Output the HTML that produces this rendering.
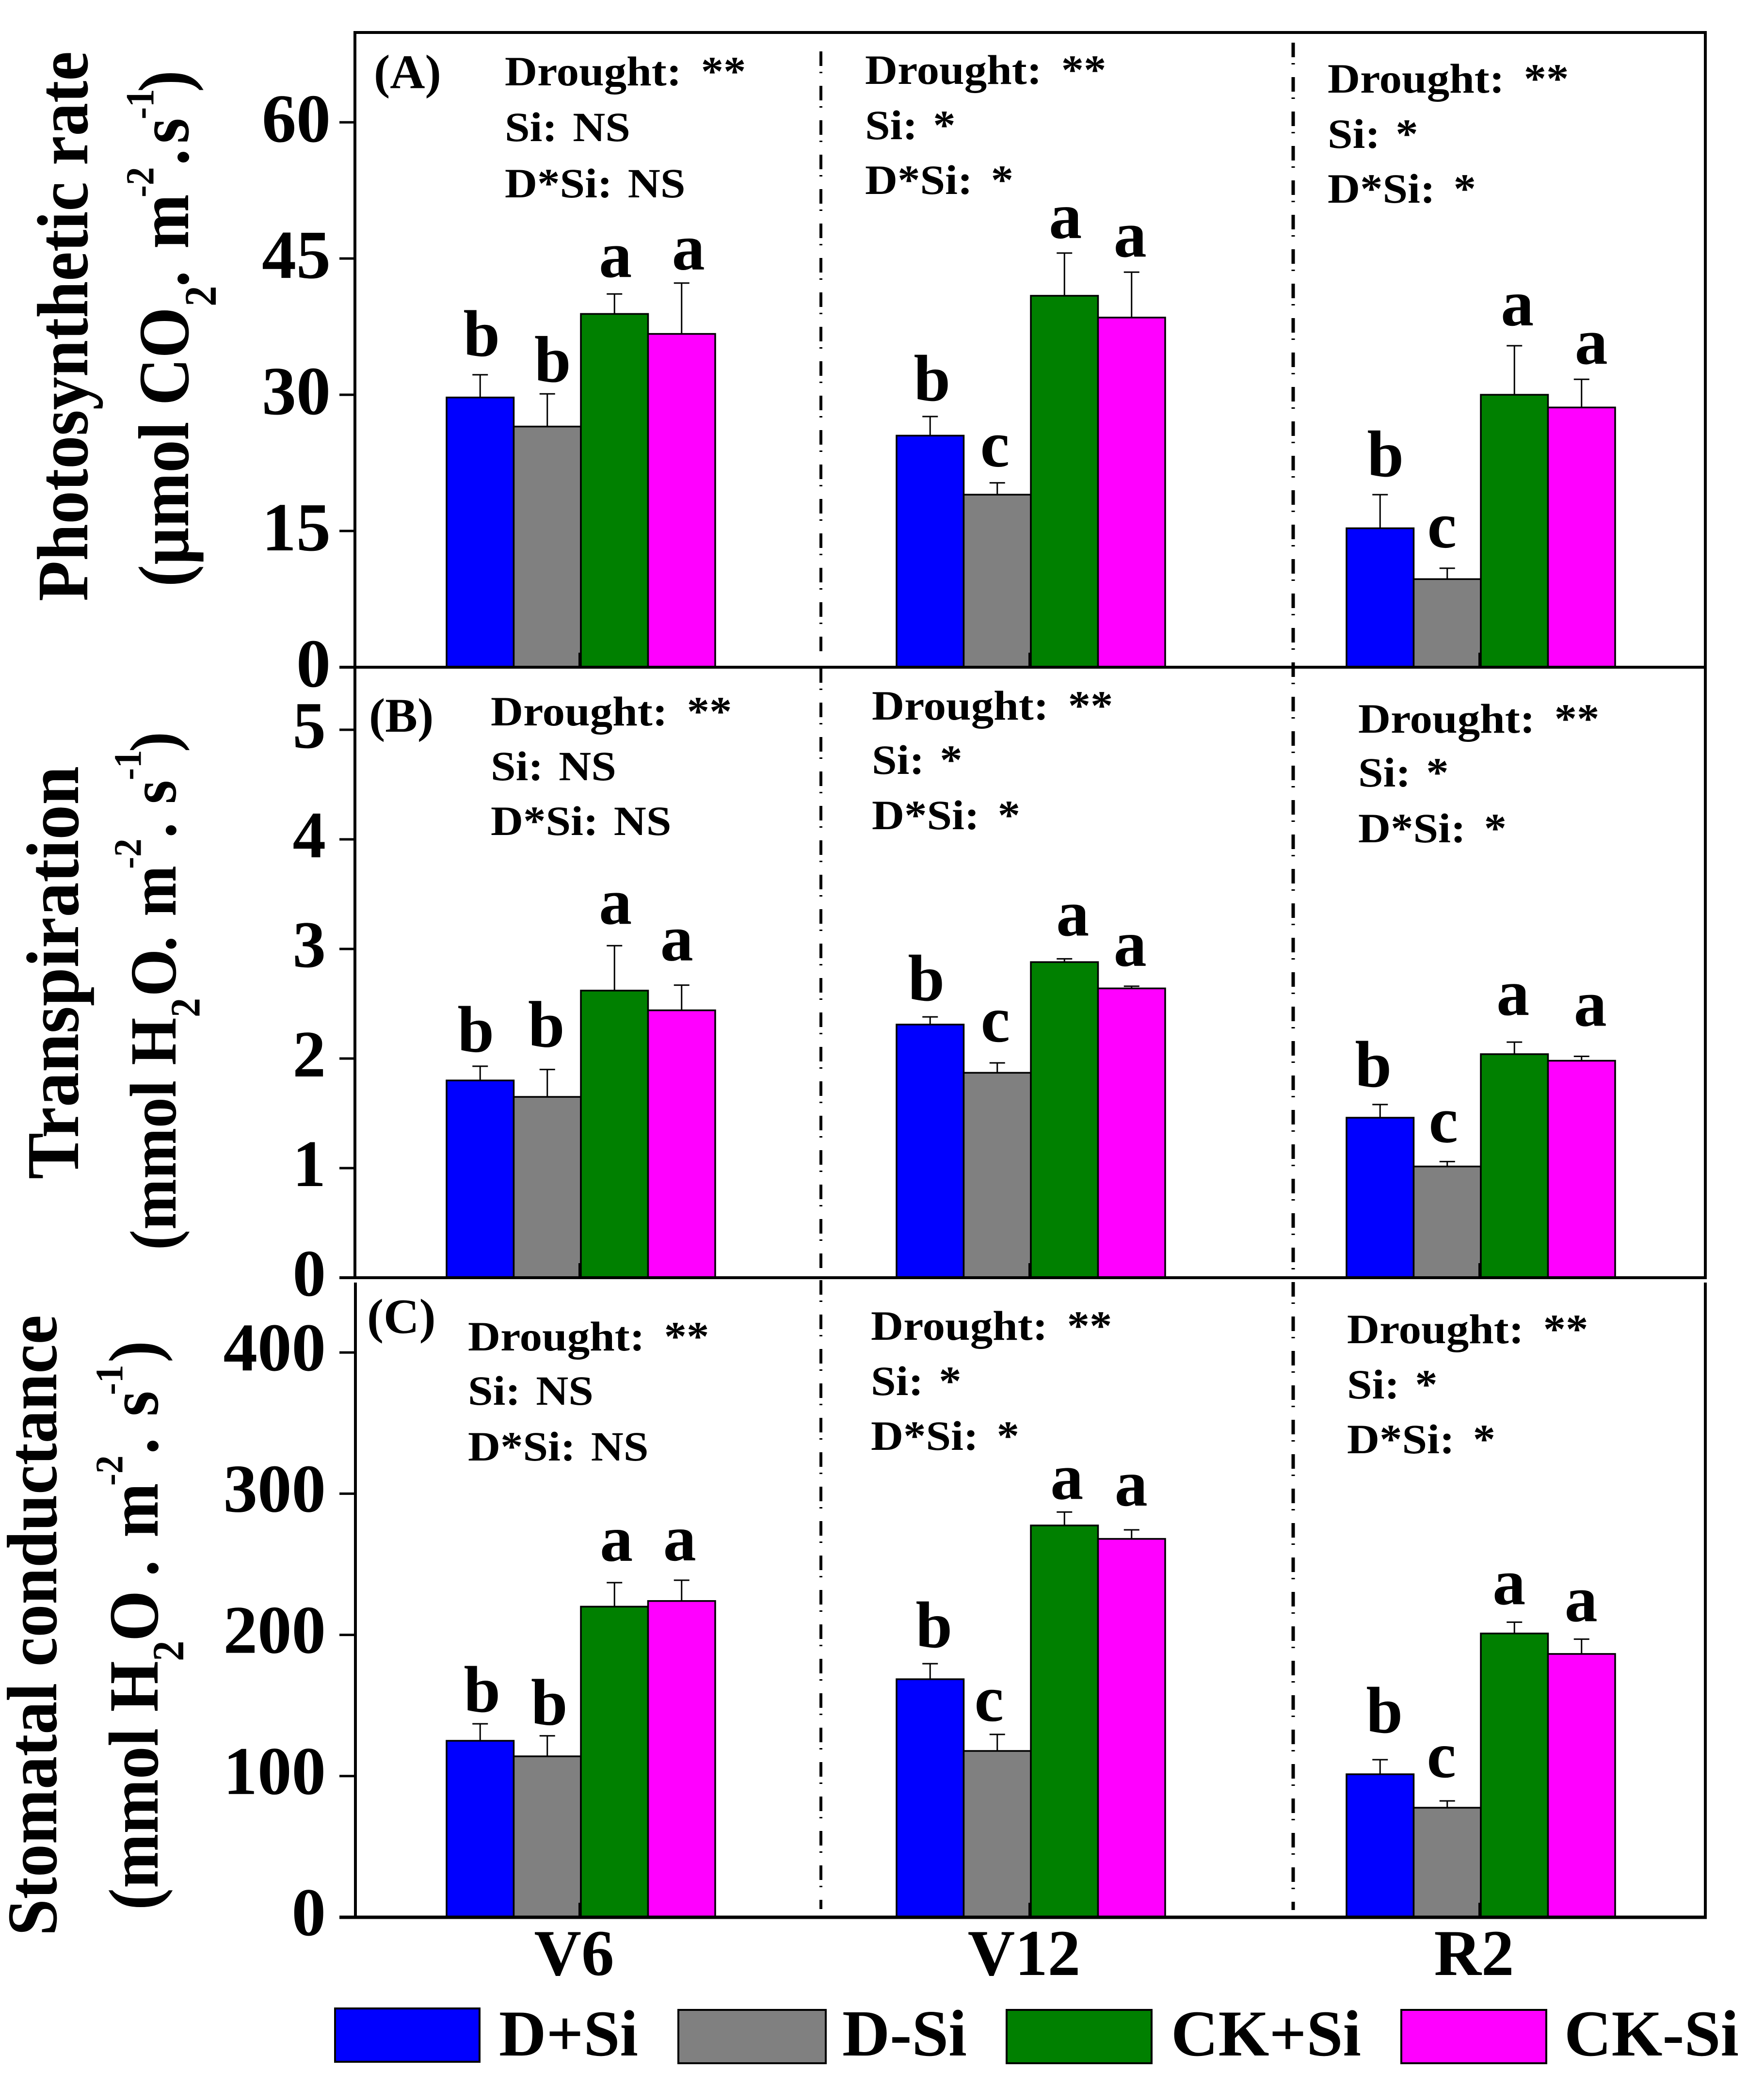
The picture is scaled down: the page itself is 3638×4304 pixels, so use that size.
<!DOCTYPE html>
<html lang="en">
<head>
<meta charset="utf-8">
<title>Photosynthetic rate, transpiration and stomatal conductance</title>
<style>
html,body{margin:0;padding:0;background:#fff}
svg{display:block}
text{font-family:"Liberation Serif","Noto Serif CJK SC",serif;font-weight:bold;fill:#000}
</style>
</head>
<body>
<svg id="chart" xmlns="http://www.w3.org/2000/svg" width="3638" height="4304" viewBox="0 0 3638 4304">
<rect x="0" y="0" width="3638" height="4304" fill="#fff"/>
<g id="marks"></g>

<g stroke="#000" fill="none">
<line x1="729" y1="67" x2="3520" y2="67" stroke-width="6"/>
<line x1="732" y1="64" x2="732" y2="2635" stroke-width="6"/>
<line x1="733" y1="2645" x2="733" y2="3954" stroke-width="6"/>
<line x1="3517" y1="64" x2="3517" y2="2635" stroke-width="6"/>
<line x1="3517" y1="2645" x2="3517" y2="3954" stroke-width="6"/>
<line x1="700" y1="1376" x2="3520" y2="1376" stroke-width="6"/>
<line x1="700" y1="2635" x2="3520" y2="2635" stroke-width="6"/>
<line x1="700" y1="3954" x2="3520" y2="3954" stroke-width="7"/>
</g>

<g fill="none" stroke="#000">
<line x1="1693" y1="106" x2="1693" y2="1355" stroke-width="6" stroke-dasharray="30 12 3 26"/>
<line x1="1693" y1="1378" x2="1693" y2="2618" stroke-width="6" stroke-dasharray="30 12 3 26"/>
<line x1="1693" y1="2640" x2="1693" y2="3937" stroke-width="6" stroke-dasharray="30 12 3 26"/>
<line x1="2667" y1="88" x2="2667" y2="3939" stroke-width="7" stroke-dasharray="30 12 3 26"/>
</g>

<text x="771" y="182" font-size="100">(A)</text>
<text x="761" y="1509" font-size="100">(B)</text>
<text x="757" y="2749" font-size="102">(C)</text>

<text transform="translate(180,0) rotate(-90) scale(1,1.1)" x="-1240" y="0" font-size="136" textLength="1134" lengthAdjust="spacingAndGlyphs">Photosynthetic rate</text>
<text transform="translate(388,0) rotate(-90) scale(1,1.1)" y="0" font-size="135"><tspan x="-1210" y="0">(µmol CO</tspan><tspan x="-632" y="52" font-size="85">2</tspan><tspan x="-592" y="0">.</tspan><tspan x="-513" y="0">m</tspan><tspan x="-407" y="-65" font-size="75">-2</tspan><tspan x="-341" y="0">.</tspan><tspan x="-296" y="0">s</tspan><tspan x="-246" y="-65" font-size="75">-1</tspan><tspan x="-190" y="0">)</tspan></text>

<text transform="translate(161,0) rotate(-90) scale(1,1.1)" x="-2432" y="0" font-size="140" textLength="852" lengthAdjust="spacingAndGlyphs">Transpiration</text>
<text transform="translate(362,0) rotate(-90) scale(1,1.08)" y="0" font-size="126"><tspan x="-2578" y="0">(mmol H</tspan><tspan x="-2098" y="46" font-size="80">2</tspan><tspan x="-2055" y="0">O</tspan><tspan x="-1962" y="0">.</tspan><tspan x="-1890" y="0">m</tspan><tspan x="-1792" y="-66" font-size="75">-2</tspan><tspan x="-1728" y="0">.</tspan><tspan x="-1658" y="0">s</tspan><tspan x="-1609" y="-66" font-size="75">-1</tspan><tspan x="-1551" y="0">)</tspan></text>

<text transform="translate(116,0) rotate(-90) scale(1,1.08)" x="-3992" y="0" font-size="136" textLength="1280" lengthAdjust="spacingAndGlyphs">Stomatal conductance</text>
<text transform="translate(325,0) rotate(-90) scale(1,1.08)" y="0" font-size="135"><tspan x="-3939" y="0">(mmol H</tspan><tspan x="-3426" y="49" font-size="85">2</tspan><tspan x="-3385" y="0">O</tspan><tspan x="-3251" y="0">.</tspan><tspan x="-3171" y="0">m</tspan><tspan x="-3064" y="-67" font-size="75">-2</tspan><tspan x="-2999" y="0">.</tspan><tspan x="-2921" y="0">s</tspan><tspan x="-2877" y="-67" font-size="75">-1</tspan><tspan x="-2810" y="0">)</tspan></text>

<g>
<g>
<rect x="691" y="4142" width="298" height="110" fill="#0000ff" stroke="#000" stroke-width="4"/>
<text x="1029" y="4239" font-size="135">D+Si</text>
</g>
<g>
<rect x="1399" y="4145" width="304" height="110" fill="#808080" stroke="#000" stroke-width="4"/>
<text x="1737" y="4239" font-size="136">D-Si</text>
</g>
<g>
<rect x="2076" y="4145" width="299" height="110" fill="#008000" stroke="#000" stroke-width="4"/>
<text x="2415" y="4239" font-size="135">CK+Si</text>
</g>
<g>
<rect x="2890" y="4145" width="299" height="110" fill="#ff00ff" stroke="#000" stroke-width="4"/>
<text x="3226" y="4239" font-size="135">CK-Si</text>
</g>
</g>
</svg>

<script>
// ---- chart data ----
const categories = ['V6', 'V12', 'R2'];
const seriesNames = ['D+Si', 'D-Si', 'CK+Si', 'CK-Si'];

const photoTicks = [0, 15, 30, 45, 60];
const photoMeans = [[29.7, 26.5, 38.9, 36.7], [25.5, 19.0, 40.9, 38.5], [15.3, 9.7, 30.0, 28.6]];
const photoErrors = [[2.5, 3.6, 2.2, 5.6], [2.1, 1.3, 4.7, 5.0], [3.7, 1.2, 5.4, 3.1]];
const photoLetters = [['b', 'b', 'a', 'a'], ['b', 'c', 'a', 'a'], ['b', 'c', 'a', 'a']];

const transTicks = [0, 1, 2, 3, 4, 5];
const transMeans = [[1.80, 1.65, 2.62, 2.44], [2.31, 1.87, 2.88, 2.64], [1.46, 1.015, 2.04, 1.98]];
const transErrors = [[0.13, 0.25, 0.41, 0.23], [0.07, 0.09, 0.03, 0.02], [0.12, 0.045, 0.11, 0.04]];
const transLetters = [['b', 'b', 'a', 'a'], ['b', 'c', 'a', 'a'], ['b', 'c', 'a', 'a']];

const condTicks = [0, 100, 200, 300, 400];
const condMeans = [[125, 114, 220, 224], [168.6, 117.8, 277.5, 268], [101.3, 77.6, 201, 186.5]];
const condErrors = [[12, 14.5, 17, 14.7], [11, 11.7, 9.5, 6.4], [10.3, 4.8, 8, 10.5]];
const condLetters = [['b', 'b', 'a', 'a'], ['b', 'c', 'a', 'a'], ['b', 'c', 'a', 'a']];

const statsNS = ['Drought:\u00a0\u00a0**', 'Si:\u00a0NS', 'D*Si:\u00a0NS'];
const statsStar = ['Drought:\u00a0\u00a0**', 'Si:\u00a0*', 'D*Si:\u00a0\u00a0*'];

// ---- layout (not data) ----
const svgNS = 'http://www.w3.org/2000/svg';
const marks = document.getElementById('marks');
const colours = ['#0000ff', '#808080', '#008000', '#ff00ff'];

function make(tag, attrs) {
  const node = document.createElementNS(svgNS, tag);
  for (const key in attrs) node.setAttribute(key, attrs[key]);
  return node;
}
function barLeft(g, s) { return 921 + 928 * g + 138.5 * s; }
function barCentre(g, s) { return barLeft(g, s) + 69.25; }
function photoY(v) { return 1376 - 18.73 * v; }
function transY(v) { return 2635 - 226 * v; }
function condY(v) { return 3954 - 2.912 * v; }
function statSpacing(line) {
  const gaps = line.split('\u00a0').length - 1;
  if (gaps === 1) return 8;
  return line.charAt(0) === 'D' && line.charAt(1) === 'r' ? -3 : -4;
}

const panels = [
  { id: 'a', y: photoY, ticks: photoTicks, means: photoMeans, errors: photoErrors, letters: photoLetters,
    labelRight: 682, labelSize: 142, labelDrop: 40,
    lift: [[39, 25, 35, 28], [33, 34, 31, 32], [38, 43, 42, 32]],
    shift: [[3, 11, 2, 14], [4, -5, 2, -3], [11, -11, 6, 20]],
    stats: [statsNS, statsStar, statsStar],
    statPos: [[1041, 176, 291, 407], [1784, 173, 287, 400], [2738, 191, 305, 418]] },
  { id: 'b', y: transY, ticks: transTicks, means: transMeans, errors: transErrors, letters: transLetters,
    labelRight: 672, labelSize: 137, labelDrop: 37,
    lift: [[30, 47, 45, 51], [34, 44, 48, 42], [37, 40, 56, 63]],
    shift: [[-9, -2, 2, -10], [-8, -4, 17, -3], [-14, -8, -3, 18]],
    stats: [statsNS, statsStar, statsStar],
    statPos: [[1012, 1496, 1609, 1722], [1798, 1484, 1596, 1710], [2801, 1511, 1622, 1737]] },
  { id: 'c', y: condY, ticks: condTicks, means: condMeans, errors: condErrors, letters: condLetters,
    labelRight: 672, labelSize: 141, labelDrop: 37,
    lift: [[25, 23, 45, 41], [34, 28, 27, 50], [56, 49, 37, 37]],
    shift: [[4, 4, 4, -4], [8, -17, 5, -1], [9, -12, -11, -1]],
    stats: [statsNS, statsStar, statsStar],
    statPos: [[965, 2785, 2897, 3012], [1796, 2763, 2877, 2990], [2778, 2770, 2884, 2997]] }
];

panels.forEach(function (p) {
  // y-axis ticks and labels
  p.ticks.forEach(function (t) {
    const tick = make('line', { x1: 700, x2: 732, y1: p.y(t), y2: p.y(t), stroke: '#000', 'stroke-width': 5 });
    
    
    marks.appendChild(tick);
    const label = make('text', { x: p.labelRight, y: p.y(t) + p.labelDrop, 'text-anchor': 'end', 'font-size': p.labelSize });
    
    
    label.textContent = String(t);
    marks.appendChild(label);
  });

  categories.forEach(function (cat, g) {
    // bars, error bars and significance letters
    seriesNames.forEach(function (name, s) {
      const mean = p.means[g][s];
      const top = p.y(mean + p.errors[g][s]);
      const cx = barCentre(g, s);

      const stem = make('line', { x1: cx, x2: cx, y1: top, y2: p.y(mean), stroke: '#000', 'stroke-width': 3 });
      
      
      marks.appendChild(stem);

      const cap = make('line', { x1: cx - 16, x2: cx + 16, y1: top, y2: top, stroke: '#000', 'stroke-width': 3 });
      
      
      marks.appendChild(cap);

      const bar = make('rect', {
        x: barLeft(g, s), y: p.y(mean), width: 138.5, height: p.y(0) - p.y(mean),
        fill: colours[s], stroke: '#000', 'stroke-width': 3.5
      });
      
      
      marks.appendChild(bar);

      const letter = make('text', {
        x: cx + p.shift[g][s], y: top - p.lift[g][s], 'text-anchor': 'middle', 'font-size': 136
      });
      
      
      letter.textContent = p.letters[g][s];
      marks.appendChild(letter);
    });

    const notch = make('rect', { x: barLeft(g, 2) - 5, y: p.y(0) - 30, width: 6, height: 30, fill: '#000' });
    
    
    marks.appendChild(notch);

    // ANOVA significance text
    p.stats[g].forEach(function (line, i) {
      const stat = make('text', {
        transform: 'translate(' + p.statPos[g][0] + ',' + p.statPos[g][i + 1] + ') scale(1.08,1)',
        'font-size': 86,
        'word-spacing': statSpacing(line)
      });
      
      
      stat.textContent = line;
      marks.appendChild(stat);
    });
  });
});

// x-axis category labels
categories.forEach(function (cat, g) {
  const label = make('text', { x: 1184 + 928 * g, y: 4073, 'text-anchor': 'middle', 'font-size': 135 });
  
  
  label.textContent = cat;
  marks.appendChild(label);
});
</script>
</body>
</html>
